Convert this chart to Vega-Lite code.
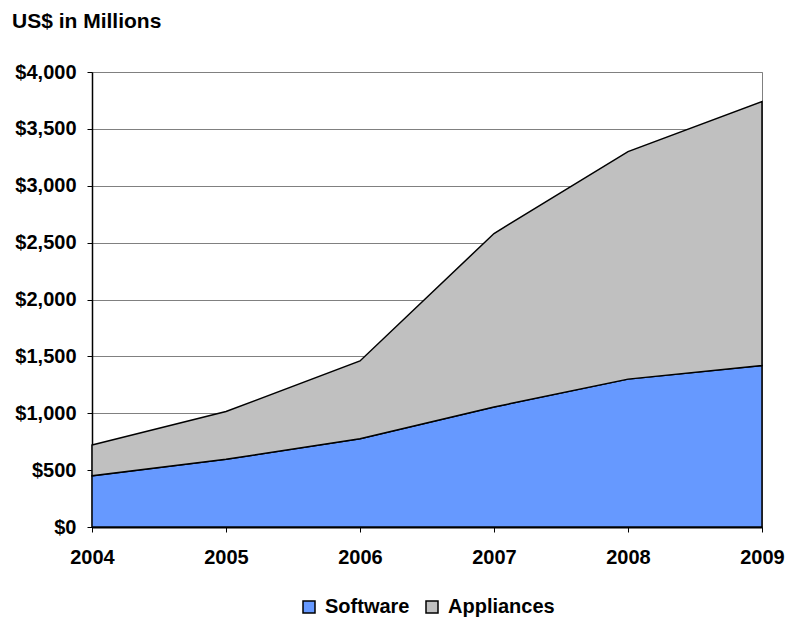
{
  "$schema": "https://vega.github.io/schema/vega-lite/v6.json",
  "autosize": "none",
  "width": 670,
  "height": 455,
  "padding": {"left": 92, "top": 72, "right": 28, "bottom": 101},
  "background": "white",
  "title": {
    "text": "US$ in Millions",
    "anchor": "start",
    "frame": "group",
    "dx": -80,
    "offset": 30,
    "font": "Liberation Sans",
    "fontSize": 21,
    "fontWeight": "bold",
    "color": "black"
  },
  "data": {
    "values": [
      {"year": "2004", "series": "Software", "value": 450},
      {"year": "2005", "series": "Software", "value": 595},
      {"year": "2006", "series": "Software", "value": 775},
      {"year": "2007", "series": "Software", "value": 1055},
      {"year": "2008", "series": "Software", "value": 1300},
      {"year": "2009", "series": "Software", "value": 1420},
      {"year": "2004", "series": "Appliances", "value": 270},
      {"year": "2005", "series": "Appliances", "value": 420},
      {"year": "2006", "series": "Appliances", "value": 685},
      {"year": "2007", "series": "Appliances", "value": 1525},
      {"year": "2008", "series": "Appliances", "value": 2000},
      {"year": "2009", "series": "Appliances", "value": 2320}
    ]
  },
  "mark": {"type": "area", "stroke": "black", "strokeWidth": 1.5, "opacity": 1},
  "encoding": {
    "x": {
      "field": "year",
      "type": "ordinal",
      "scale": {"type": "point", "padding": 0},
      "axis": {
        "title": null,
        "labelAngle": 0,
        "labelFont": "Liberation Sans",
        "labelFontSize": 20,
        "labelFontWeight": "bold",
        "labelColor": "black",
        "labelPadding": 15,
        "tickSize": 5,
        "tickColor": "black",
        "domainColor": "black",
        "domainWidth": 2,
        "grid": false
      }
    },
    "y": {
      "field": "value",
      "type": "quantitative",
      "stack": "zero",
      "scale": {"domain": [0, 4000], "nice": false},
      "axis": {
        "title": null,
        "values": [0, 500, 1000, 1500, 2000, 2500, 3000, 3500, 4000],
        "format": "$,.0f",
        "labelFont": "Liberation Sans",
        "labelFontSize": 20,
        "labelFontWeight": "bold",
        "labelColor": "black",
        "labelPadding": 11,
        "tickSize": 5,
        "tickColor": "black",
        "domainColor": "black",
        "domainWidth": 1.5,
        "grid": true,
        "gridColor": "#808080",
        "gridWidth": 1
      }
    },
    "color": {
      "field": "series",
      "type": "nominal",
      "sort": ["Software", "Appliances"],
      "scale": {"domain": ["Software", "Appliances"], "range": ["#6699FF", "#C0C0C0"]},
      "legend": {
        "title": null,
        "orient": "bottom",
        "direction": "horizontal",
        "offset": 30,
        "symbolType": "square",
        "symbolSize": 144,
        "symbolStrokeColor": "black",
        "symbolStrokeWidth": 1.5,
        "symbolOpacity": 1,
        "labelOffset": 6,
        "labelFont": "Liberation Sans",
        "labelFontSize": 20,
        "labelFontWeight": "bold",
        "labelColor": "black",
        "columnPadding": 12
      }
    },
    "order": {"field": "series", "sort": "descending"}
  },
  "config": {
    "view": {"stroke": "#808080", "strokeWidth": 1},
    "legend": {"layout": {"bottom": {"anchor": "middle"}}}
  }
}
